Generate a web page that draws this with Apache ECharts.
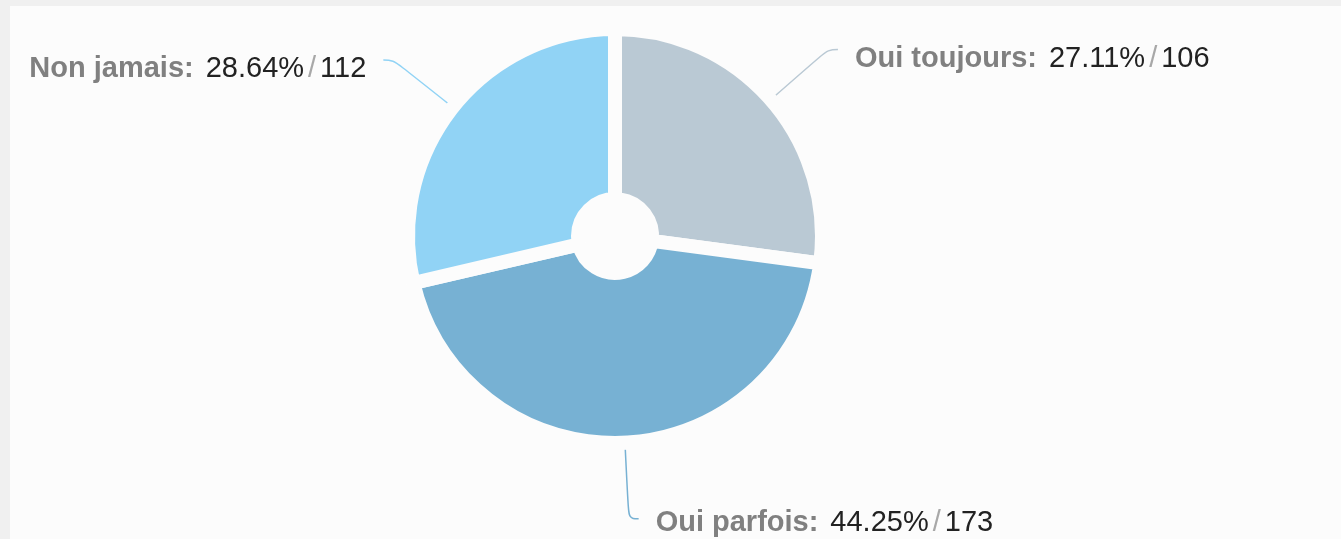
<!DOCTYPE html>
<html>
<head>
<meta charset="utf-8">
<script src="https://cdn.jsdelivr.net/npm/echarts@6/dist/echarts.min.js"></script>
<style>
  html, body { margin: 0; padding: 0; background: #f0f0f0; }
  #panel { position: absolute; left: 10px; top: 6px; width: 1331px; height: 533px; background: #fcfcfc; }
  #chart { position: absolute; left: 0; top: 0; width: 1341px; height: 539px; }
</style>
</head>
<body>
<div id="panel"></div>
<div id="chart"></div>
<script>
// Answers, counts and shares as printed on the labels.
const categories = ["Oui toujours", "Oui parfois", "Non jamais"]
const counts = [106, 173, 112]
const percents = ["27.11", "44.25", "28.64"]
const colors = ["#bac9d4", "#77b1d3", "#91d3f5"]
// Upper labels sit a little below their leader line end.
const labelDrop = [10, 0, 10]

const FONT = "Liberation Sans, Arial, sans-serif"

const chart = echarts.init(document.getElementById("chart"))

const data = categories.map((name, i) => ({
  name,
  value: counts[i],
  pct: percents[i],
  itemStyle: {color: colors[i]},
  label: {padding: [labelDrop[i], 0, 0, 0]},
}))

chart.setOption({
  animation: false,
  backgroundColor: "transparent",
  series: [
    {
      type: "pie",
      center: [615, 236],
      radius: [37, 207],
      startAngle: 90,
      clockwise: true,
      avoidLabelOverlap: false,
      data,
      itemStyle: {borderColor: "#fcfcfc", borderWidth: 14},
      label: {
        show: true,
        position: "outside",
        distanceToLabelLine: 17,
        formatter: (p) => `{n|${p.name}:}{v|${p.data.pct}%}{s|/}{w|${p.value}}`,
        rich: {
          n: {fontFamily: FONT, fontSize: 29, fontWeight: "bold", color: "#808080", padding: [8, 0, 0, 0]},
          v: {fontFamily: FONT, fontSize: 29, color: "#222222", padding: [8, 0, 0, 12]},
          s: {fontFamily: FONT, fontSize: 29, color: "#a8a8a8", padding: [8, 4, 0, 4]},
          w: {fontFamily: FONT, fontSize: 29, color: "#222222", padding: [8, 0, 0, 0]},
        },
      },
      labelLine: {
        show: true,
        length: 76,
        length2: 10,
        smooth: 0.4,
        lineStyle: {width: 1.5},
      },
      emphasis: {disabled: true},
    },
  ],
})
</script>
</body>
</html>
